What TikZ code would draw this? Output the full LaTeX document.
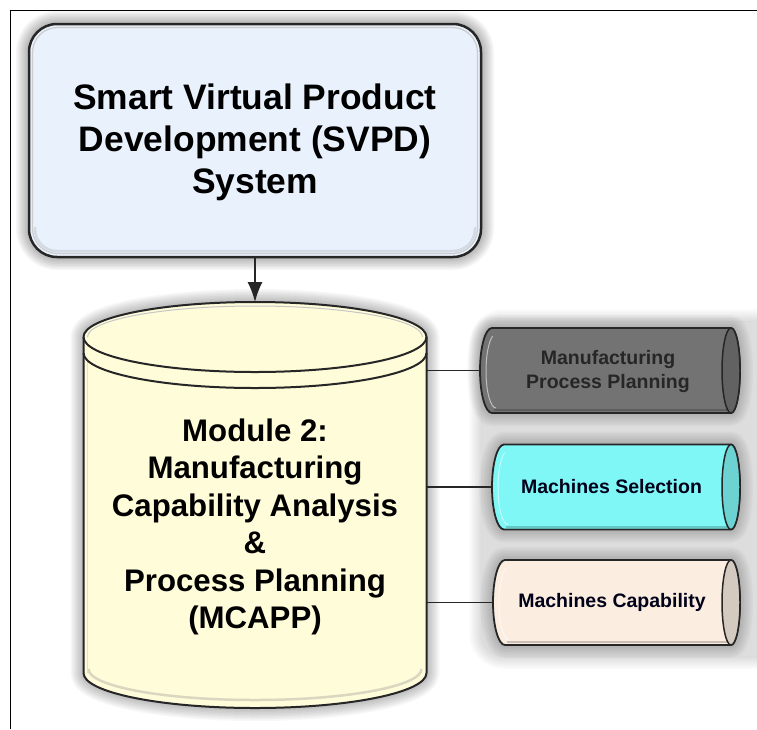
\documentclass[tikz,border=0pt]{standalone}
\usepackage{fontspec}
\setmainfont{Liberation Sans}
\usetikzlibrary{calc,arrows.meta}
\definecolor{boxblue}{HTML}{E9F1FD}
\definecolor{cylyellow}{HTML}{FFFCDA}
\definecolor{pgray}{HTML}{737373}
\definecolor{pcyan}{HTML}{80F7F7}
\definecolor{pbeige}{HTML}{FBEEE1}
\definecolor{edge}{HTML}{262626}
\definecolor{halo}{HTML}{DDDDDD}
\tikzset{
  geom/.style={inner sep=0pt, outer sep=0pt},
  titletext/.style={align=center, inner sep=0pt, font=\fontsize{35.4}{42}\selectfont\bfseries},
  bigtext/.style={align=center, inner sep=0pt, font=\fontsize{31.2}{37.5}\selectfont\bfseries},
  smalltext/.style={align=center, inner sep=0pt, font=\fontsize{19.5}{24}\selectfont\bfseries},
  smallcyl/.style={geom, minimum height=85pt},
  conn/.style={draw=edge, line width=1.8pt},
}
% soft shadow: #1 opacity per step, #2 shift, #3 path
\newcommand{\softglow}[3]{%
  \foreach \w in {2,5,...,26} {
    \draw[draw=black, opacity=#1, line width=\w pt, line join=round, shift={#2}] #3;
  }
}
\newcommand{\smallcylpath}[1]{($(#1.north west)+(12,0)$) -- (#1.north east)
    arc[start angle=90, end angle=-90, x radius=9pt, y radius=42.5pt]
    -- ($(#1.south west)+(12,0)$)
    arc[start angle=270, end angle=90, x radius=12pt, y radius=42.5pt] -- cycle}
\newcommand{\drawsmallcyl}[2]{%
  \fill[#2] \smallcylpath{#1};
  \draw[white!55!#2, line width=1pt]
    ($(#1.south west)+(16,-5)$) arc[start angle=270, end angle=110, x radius=10pt, y radius=37pt];
  \draw[black!20!#2, line width=2pt]
    ($(#1.south west)+(14,-3)$) -- ($(#1.south east)+(0,-3)$);
  \draw[edge, line width=1.8pt] \smallcylpath{#1};
  \fill[#2!85!black] (#1.east) ellipse[x radius=9pt, y radius=42.5pt];
  \draw[edge, line width=1.5pt] (#1.east) ellipse[x radius=9pt, y radius=42.5pt];
}
\begin{document}
\begin{tikzpicture}[x=1pt, y=-1pt]
\useasboundingbox (0,0) rectangle (757,729);
\fill[white] (0,0) rectangle (757,729);

% geometry holders
\node[geom, minimum width=452pt, minimum height=233pt] (svpd) at (255,140.5) {};
\node[geom, minimum width=343pt, minimum height=336pt] (mcyl) at (255,505) {};
\coordinate (mcyltop) at (255,302);
\node[smallcyl, minimum width=251pt] (pmp) at (605.5,370.5) {};
\node[smallcyl, minimum width=239pt] (msel) at (611.5,487) {};
\node[smallcyl, minimum width=238pt] (mcap) at (612,602.5) {};

% halo behind the small cylinders
\softglow{0.016}{(0,0)}{[rounded corners=22pt] (482,322) rectangle (790,656)}
\fill[halo, rounded corners=22pt] (482,322) rectangle (790,656);
\softglow{0.025}{(2,4)}{\smallcylpath{pmp}}
\softglow{0.025}{(2,4)}{\smallcylpath{msel}}
\softglow{0.025}{(2,4)}{\smallcylpath{mcap}}

% frame
\draw[line width=1pt] (10,729) -- (10,10) -- (757,10);

% top box
\softglow{0.035}{(0,4)}{[rounded corners=28pt] (svpd.north west) rectangle (svpd.south east)}
\draw[draw=edge, line width=2.5pt, fill=boxblue, rounded corners=28pt]
  (svpd.north west) rectangle (svpd.south east);
\draw[white!60!gray, line width=1.2pt, rounded corners=25pt]
  ($(svpd.north west)+(3.5,3.5)$) rectangle ($(svpd.south east)+(-3.5,-3.5)$);
\draw[boxblue!80!gray, line width=2.5pt, rounded corners=22pt]
  ($(svpd.south west)+(6,-30)$) -- ($(svpd.south west)+(6,-6)$) -- ($(svpd.south east)+(-6,-6)$) -- ($(svpd.south east)+(-6,-30)$);
\node[titletext] at ($(svpd)+(0,1.5)$) {Smart Virtual Product\\Development (SVPD)\\System};

% main cylinder
\softglow{0.03}{(-2,5)}{(mcyl.north west) -- (mcyl.south west)
    arc[start angle=180, end angle=360, x radius=171.5pt, y radius=35pt]
    -- (mcyl.north east)
    arc[start angle=0, end angle=180, x radius=171.5pt, y radius=35pt] -- cycle}
\path[fill=cylyellow, draw=edge, line width=2pt]
    (mcyl.north west) -- (mcyl.south west)
    arc[start angle=180, end angle=360, x radius=171.5pt, y radius=35pt]
    -- (mcyl.north east)
    arc[start angle=0, end angle=180, x radius=171.5pt, y radius=35pt] -- cycle;
\draw[white!55!gray, line width=1pt]
    ($(mcyl.north west)+(4,0)$) arc[start angle=180, end angle=0, x radius=167.5pt, y radius=31pt];
\draw[white!75!gray, line width=1.2pt]
    ($(mcyl.north west)+(4,22)$) -- ($(mcyl.south west)+(4,0)$);
\draw[cylyellow!70!gray, line width=2.5pt]
    ($(mcyl.south west)+(5,-4)$) arc[start angle=180, end angle=360, x radius=166.5pt, y radius=31pt];
\draw[edge, line width=2pt]
    (mcyl.north west) arc[start angle=180, end angle=360, x radius=171.5pt, y radius=35pt];
\draw[edge, line width=2pt]
    ($(mcyl.north west)+(0,16)$) arc[start angle=180, end angle=360, x radius=171.5pt, y radius=35pt];
\node[bigtext] (mcapp) at (255,527) {Module 2:\\Manufacturing\\Capability Analysis\\\&\\Process Planning\\(MCAPP)};

% small cylinders
\drawsmallcyl{pmp}{pgray}
\drawsmallcyl{msel}{pcyan}
\drawsmallcyl{mcap}{pbeige}
\node[smalltext, text=black!85] at ($(pmp)+(2.5,0.5)$) {Manufacturing\\Process Planning};
\node[smalltext, text=black!90!blue] at (msel) {Machines Selection};
\node[smalltext, text=black!90!blue] at (mcap) {Machines Capability};

% connectors
\draw[-{Latex[length=20pt, width=15pt]}, line width=1.6pt, edge] (svpd.south) -- (mcyltop);
\draw[conn] (mcyl.east |- pmp.west) -- (pmp.west);
\draw[conn] (mcyl.east |- msel.west) -- (msel.west);
\draw[conn] (mcyl.east |- mcap.west) -- (mcap.west);
\end{tikzpicture}
\end{document}
